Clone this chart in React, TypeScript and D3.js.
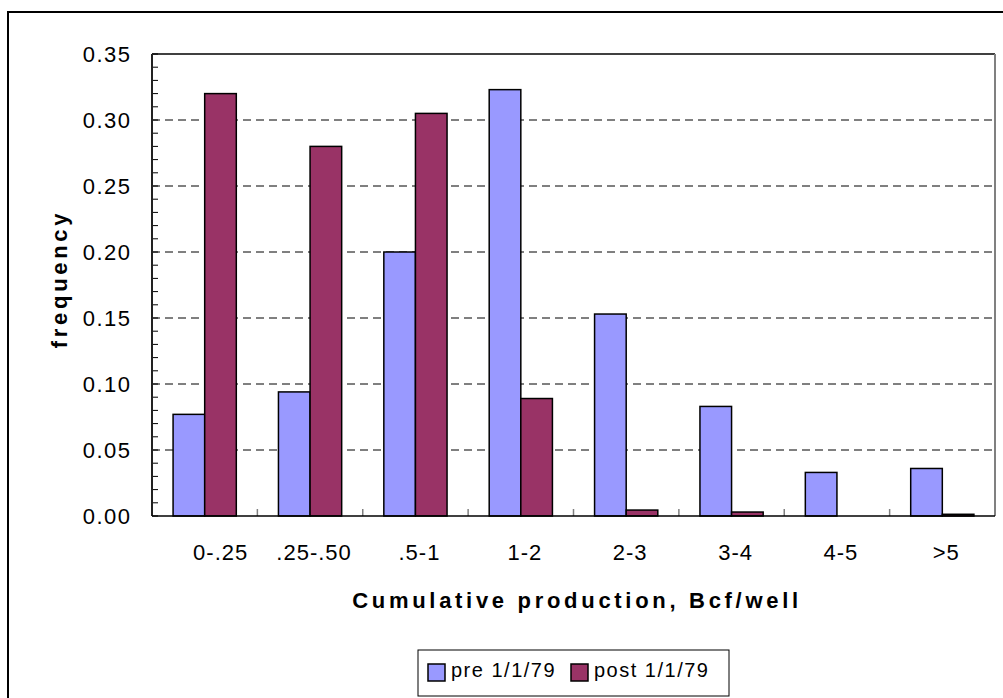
import React from "react";
import * as d3 from "d3";

const categories = ["0-.25", ".25-.50", ".5-1", "1-2", "2-3", "3-4", "4-5", ">5"];
const preValues = [0.077, 0.094, 0.2, 0.323, 0.153, 0.083, 0.033, 0.036];
const postValues = [0.32, 0.28, 0.305, 0.089, 0.0045, 0.003, 0, 0.0013];
const yTicks = [0, 0.05, 0.1, 0.15, 0.2, 0.25, 0.3, 0.35];
const seriesNames = ["pre 1/1/79", "post 1/1/79"];

const W = 1003, H = 698;
const left = 152, right = 995, top = 54, bottom = 516;
const FONT = "'Liberation Sans', Arial, sans-serif";

export default function App() {
  const x = d3.scaleBand<string>().domain(categories).range([left, right]).paddingInner(0).paddingOuter(0);
  const y = d3.scaleLinear().domain([0, 0.35]).range([bottom, top]);
  const bw = x.bandwidth();
  const barW = bw * 0.3;
  const minor = d3.range(0, 0.3501, 0.01);
  const colors = ["#9999FF", "#993366"];
  const legendX = [428, 571];
  return (
    <div style={{ position: "absolute", left: 0, top: 0 }}>
      <svg width={W} height={H} style={{ display: "block" }} fontFamily={FONT}>
        <rect x={0} y={0} width={W} height={H} fill="#fff" />
        <rect x={8} y={12} width={W + 20} height={H + 20} fill="none" stroke="#000" strokeWidth={2} />
        {/* gridlines */}
        {yTicks.filter(t => t > 0 && t < 0.35).map(t => (
          <line key={t} x1={left} x2={right} y1={y(t)} y2={y(t)} stroke="#000" strokeWidth={1} strokeDasharray="8,5" />
        ))}
        {/* plot border */}
        <line x1={left} x2={right} y1={top} y2={top} stroke="#000" strokeWidth={1.5} />
        <line x1={right} x2={right} y1={top} y2={bottom} stroke="#808080" strokeWidth={2} />
        {/* minor ticks */}
        {minor.map((t, i) => (
          <line key={i} x1={left} x2={left + 6} y1={y(t)} y2={y(t)} stroke="#000" strokeWidth={1} />
        ))}
        {/* category ticks */}
        {categories.slice(1).map(c => (
          <line key={c} x1={x(c)!} x2={x(c)!} y1={bottom} y2={bottom - 7} stroke="#808080" strokeWidth={1.5} />
        ))}
        {/* bars */}
        {categories.map((c, i) => {
          const x0 = x(c)! + (bw - 2 * barW) / 2;
          return (
            <g key={c}>
              {[preValues[i], postValues[i]].map((v, s) => (
                v > 0 ? (
                  <rect key={s} x={x0 + s * barW} y={y(v)} width={barW} height={bottom - y(v)}
                    fill={colors[s]} stroke="#000" strokeWidth={1.5} />
                ) : null
              ))}
            </g>
          );
        })}
        {/* axes */}
        <line x1={left} x2={left} y1={top} y2={bottom} stroke="#222" strokeWidth={2} />
        <line x1={left} x2={right} y1={bottom} y2={bottom} stroke="#000" strokeWidth={1.5} />
        {/* y tick labels */}
        {yTicks.map(t => (
          <text key={t} x={131.5} y={y(t)} dy="0.35em" textAnchor="end" fontSize={22} letterSpacing={1.5} fill="#000">
            {t.toFixed(2)}
          </text>
        ))}
        {/* x tick labels */}
        {categories.map((c, i) => (
          <text key={c} x={x(c)! + bw / 2 + 4 + (i === 0 ? 12 : 0)} y={560} textAnchor="middle" fontSize={22} letterSpacing={1} fill="#000">
            {c}
          </text>
        ))}
        {/* axis titles */}
        <text x={577} y={608} textAnchor="middle" fontSize={22} fontWeight="bold" letterSpacing={3.7} fill="#000">
          Cumulative production, Bcf/well
        </text>
        <text transform={`translate(67,279) rotate(-90)`} textAnchor="middle" fontSize={22} fontWeight="bold" letterSpacing={3.7} fill="#000">
          frequency
        </text>
        {/* legend */}
        <rect x={418} y={650} width={311} height={46} fill="#fff" stroke="#000" strokeWidth={1} />
        {seriesNames.map((n, i) => {
          const lx = legendX[i];
          return (
            <g key={n}>
              <rect x={lx} y={664} width={17} height={17} fill={colors[i]} stroke="#000" strokeWidth={1.5} />
              <text x={lx + 23} y={677} fontSize={20} letterSpacing={1.5} fill="#000">{n}</text>
            </g>
          );
        })}
      </svg>
    </div>
  );
}
